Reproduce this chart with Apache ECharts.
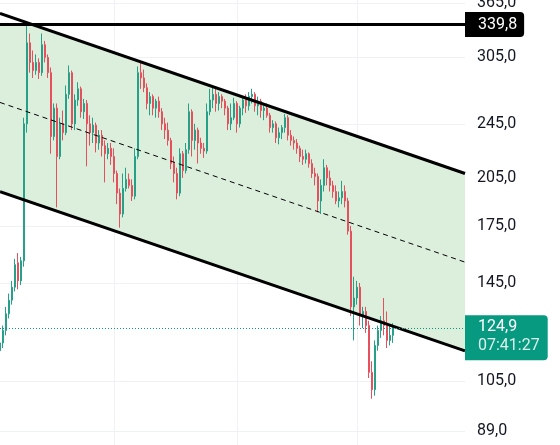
<!DOCTYPE html>
<html><head><meta charset="utf-8">
<script src="https://cdn.jsdelivr.net/npm/echarts@6/dist/echarts.min.js"></script>
<style>html,body{margin:0;padding:0;background:#fff}#c{width:560px;height:445px}</style>
</head><body><div id="c"></div>
<script>
// ---- data ----
const opens  = [116,119,124,131,137,143,155,146,156,245,320,300,292,300,290,318,305,290,235,258,220,245,238,270,290,245,265,275,255,262,245,238,244,230,236,228,222,226,220,208,195,182,198,204,200,193,220,290,285,276,262,268,258,264,255,245,240,232,215,208,195,222,210,225,255,232,240,230,226,224,255,265,270,262,268,264,258,245,250,262,245,258,265,260,268,270,260,264,256,258,252,242,245,234,238,242,250,236,232,230,226,220,218,222,215,208,206,190,200,212,205,200,196,190,192,196,190,172,134,138,143,130,132,126,108,102,118,124,128,126,120,122];
const closes = [119,124,131,137,143,154,146,156,245,320,300,292,300,290,318,305,290,235,258,220,245,238,270,290,245,265,275,255,262,245,238,244,230,236,228,222,226,220,208,195,182,198,204,200,193,220,290,285,276,262,268,258,264,255,245,240,232,215,208,195,222,210,225,255,232,240,230,226,224,255,265,270,262,268,264,258,245,250,262,245,258,265,260,268,270,260,264,256,258,252,242,245,234,238,242,250,236,232,230,226,220,218,222,215,208,206,190,200,212,205,200,196,190,192,196,190,172,134,138,143,130,132,126,108,102,118,124,128,126,120,122,124.9];
const lows   = [113,117,122,129,135,141,142,144,153,238,290,285,288,284,287,300,285,222,232,186,218,232,236,266,240,240,260,250,249,213,228,230,223,225,220,202,218,214,202,188,174,180,196,198,190,191,218,275,272,257,252,252,250,250,240,233,228,211,202,191,193,205,208,222,220,225,215,222,219,222,252,258,255,256,258,252,240,240,248,238,242,252,254,256,262,255,252,250,248,250,238,238,230,229,233,238,232,228,225,222,216,214,215,212,205,200,183,182,196,200,196,192,188,186,188,186,170,130,120,135,126,125,123,106,99,100,116,121,122,117,118,119];
const highs  = [120,126,134,140,146,157,160,158,250,340,330,312,308,304,330,322,308,295,262,262,250,256,278,297,292,270,281,277,266,265,252,250,246,240,240,232,230,230,226,210,198,208,212,208,204,226,296,301,293,280,272,270,266,268,258,250,246,234,220,212,226,224,230,262,257,245,242,234,230,262,275,278,275,272,270,266,260,262,267,264,260,268,270,272,275,272,268,266,260,262,254,248,247,242,244,253,252,240,235,233,228,225,225,223,218,212,208,204,218,214,210,203,200,196,203,200,192,175,148,146,145,134,134,128,112,120,126,130,138,132,126,127];
const slotCount = 156;                       // category slots incl. empty space right of last candle
const categories = Array.from({length: slotCount}, (_, i) => String(i));
const tickValues = [89, 105, 145, 175, 205, 245, 305, 365];
const athLevel = 339.8;
const lastPrice = 124.9;
const lastTime = '07:41:27';
const channelUpper = [352.7, 208.0];
const channelMid   = [262.9, 155.3];
const channelLower = [195.9, 115.9];
const gridCols = [38, 79, 119];

// ---- chart ----
const fmt = v => Number(v).toFixed(1).replace('.', ',');
const lastSlot = slotCount - 1;
const ohlc = opens.map((o, i) => [o, closes[i], lows[i], highs[i]]);
const FONT = 'Roboto, "Noto Sans", sans-serif';

const chart = echarts.init(document.getElementById('c'), null, {renderer: 'canvas'});
chart.setOption({
  animation: false,
  backgroundColor: '#ffffff',
  grid: {left: 0, right: 95, top: 0, bottom: 0, containLabel: false, outerBoundsMode: 'none'},
  xAxis: {
    type: 'category', data: categories, boundaryGap: false,
    axisLine: {show: false}, axisTick: {show: false}, axisLabel: {show: false},
    splitLine: {show: true, interval: (idx) => gridCols.includes(idx), lineStyle: {color: '#f0f1f4', width: 1}}
  },
  yAxis: {
    type: 'log', logBase: 10, min: 85, max: 368.5, position: 'right',
    axisLine: {show: false},
    axisTick: {show: false, customValues: tickValues},
    axisLabel: {customValues: tickValues, formatter: v => fmt(v), color: '#131722', fontSize: 16, margin: 12, fontFamily: FONT},
    splitLine: {show: true, lineStyle: {color: '#f0f1f4', width: 1}}
  },
  series: [
    {
      type: 'custom', z: 1, silent: true,
      data: [[0, channelUpper[0]]],
      renderItem: (params, api) => {
        const u0 = api.coord([0, channelUpper[0]]), u1 = api.coord([lastSlot, channelUpper[1]]);
        const l0 = api.coord([0, channelLower[0]]), l1 = api.coord([lastSlot, channelLower[1]]);
        const yh = api.coord([0, athLevel])[1];
        let pts;
        if (u0[1] < yh) {
          const t = (yh - u0[1]) / (u1[1] - u0[1]);
          pts = [[u0[0], yh], [u0[0] + t * (u1[0] - u0[0]), yh], u1, l1, l0];
        } else pts = [u0, u1, l1, l0];
        return {type: 'polygon', shape: {points: pts}, style: {fill: '#dcefdd'}};
      }
    },
    {
      type: 'line', z: 2, data: [], silent: true,
      markLine: {
        silent: true, symbol: ['none', 'none'],
        data: [
          {yAxis: lastPrice, lineStyle: {color: '#089981', width: 1, type: [1, 2]},
           label: {show: true, position: 'end', distance: 0, offset: [0, 9.5],
             formatter: `{a|${fmt(lastPrice)}}\n{b|${lastTime}}`,
             backgroundColor: '#089981', padding: [2, 8, 5, 13], borderRadius: [0, 4, 4, 0],
             rich: {a: {color: '#ffffff', fontSize: 16, lineHeight: 19, fontFamily: FONT},
                    b: {color: 'rgba(255,255,255,0.85)', fontSize: 16, lineHeight: 19, fontFamily: FONT}}}}
        ]
      }
    },
    {
      type: 'candlestick', z: 3, data: ohlc, barWidth: 2,
      itemStyle: {color: '#26a088', color0: '#e5505c', borderColor: '#26a088', borderColor0: '#e5505c', borderWidth: 1}
    },
    {
      type: 'line', z: 4, data: [[0, channelUpper[0]], [lastSlot, channelUpper[1]]],
      symbol: 'none', lineStyle: {color: '#000', width: 3}, silent: true
    },
    {
      type: 'line', z: 4, data: [[0, channelLower[0]], [lastSlot, channelLower[1]]],
      symbol: 'none', lineStyle: {color: '#000', width: 3}, silent: true
    },
    {
      type: 'line', z: 4, data: [[0, channelMid[0]], [lastSlot, channelMid[1]]],
      symbol: 'none', lineStyle: {color: '#000', width: 1, type: [5, 4]}, silent: true
    },
    {
      type: 'line', z: 5, data: [], silent: true,
      markLine: {
        silent: true, symbol: ['none', 'none'],
        data: [
          {yAxis: athLevel, lineStyle: {color: '#000', width: 3, type: 'solid'},
           label: {show: true, position: 'end', distance: 0, formatter: fmt(athLevel),
             color: '#ffffff', fontSize: 16, fontFamily: FONT, lineHeight: 18,
             backgroundColor: '#000000', padding: [4, 7, 3, 13], borderRadius: [0, 4, 4, 0]}}
        ]
      }
    }
  ]
});
</script></body></html>
